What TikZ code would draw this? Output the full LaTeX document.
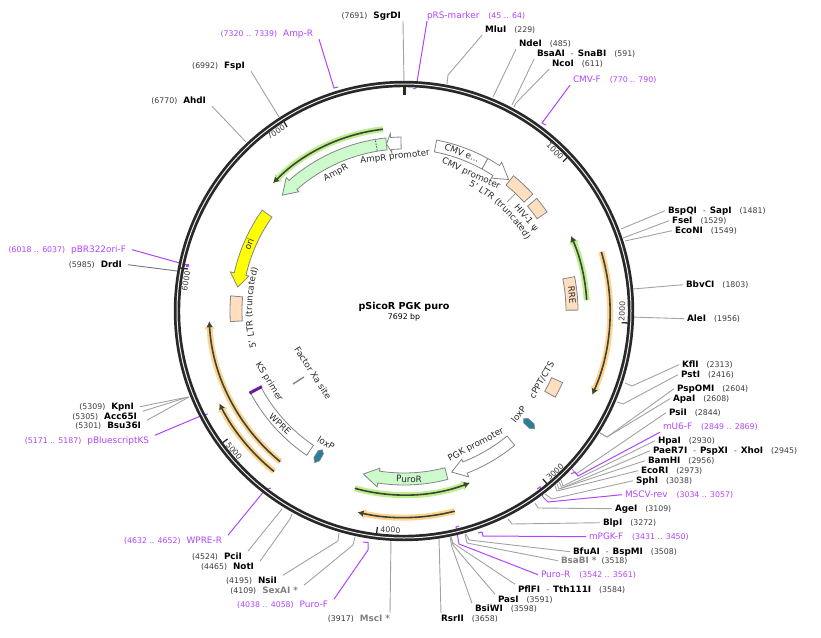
\documentclass[tikz,border=0pt]{standalone}
\usepackage{fontspec}
\setmainfont{DejaVu Sans}
\usetikzlibrary{arrows.meta,decorations.text}
\definecolor{RingDark}{HTML}{282828}
\definecolor{SiteWire}{HTML}{A2A2A2}
\definecolor{SitePos}{HTML}{3C3C3C}
\definecolor{SiteStar}{HTML}{808080}
\definecolor{FeatEdge}{HTML}{858585}
\definecolor{FeatText}{HTML}{2A2A2A}
\definecolor{PrimerPurple}{HTML}{B244FF}
\definecolor{GeneMint}{HTML}{CCFACC}
\definecolor{LtrPeach}{HTML}{FFDFBF}
\definecolor{OriYellow}{HTML}{FFFF00}
\definecolor{LoxTeal}{HTML}{2C7F9A}
\definecolor{KsViolet}{HTML}{6A1B9A}
\definecolor{GlowGreen}{HTML}{BDEE90}
\definecolor{GlowOrange}{HTML}{FFD490}
\definecolor{TrackDark}{HTML}{3D4433}
\tikzset{
  site right/.style={anchor=west,inner sep=0pt,outer xsep=3pt,outer ysep=1pt,text height=7pt,text depth=2pt,xshift=-3pt,yshift=-0.7pt},
  site left/.style={anchor=east,inner sep=0pt,outer xsep=6pt,outer ysep=1pt,text height=7pt,text depth=2pt,xshift=6pt,yshift=-0.7pt},
  site wire/.style={draw=SiteWire,line width=0.9pt},
  primer wire/.style={draw=PrimerPurple,line width=1pt},
  feature box/.style={draw=FeatEdge,line width=0.8pt,line join=miter},
  feature label/.style={inner sep=0pt,text=FeatText,font=\fontsize{8.8}{10}\selectfont},
  tick label/.style={inner sep=0pt,text=SitePos,font=\fontsize{7.8}{9}\selectfont},
  tick mark/.style={draw=RingDark,line width=1.3pt},
  green track/.style={
    preaction={draw=GlowGreen,line width=6pt,-{Latex[length=8pt,width=11pt]}},
    draw=TrackDark,line width=1.6pt,-{Latex[length=6pt,width=6.5pt]}
  },
  orange track/.style={
    preaction={draw=GlowOrange,line width=6pt,-{Latex[length=8pt,width=11pt]}},
    draw=TrackDark,line width=1.6pt,-{Latex[length=6pt,width=6.5pt]}
  }
}
\newcommand{\enz}[1]{{\fontsize{8.8}{10}\selectfont\bfseries #1}}
\newcommand{\enzstar}[1]{{\fontsize{8.8}{10}\selectfont\bfseries\color{SiteStar}#1}}
\newcommand{\bpos}[1]{{\fontsize{7.8}{9}\selectfont\color{SitePos}#1}}
\newcommand{\dsh}{\hspace{6pt}{\color{SitePos}\fontsize{7.8}{9}\selectfont-}\hspace{4pt}}
\newcommand{\prm}[1]{{\fontsize{8.9}{10}\selectfont\color{PrimerPurple}#1}}
\newcommand{\prmpos}[1]{{\fontsize{7.8}{9}\selectfont\color{PrimerPurple}#1}}
\newcommand{\arcfont}{\fontsize{8.8}{10}\selectfont\color{FeatText}}
\newcommand{\ringbox}[3]{\draw[feature box,#1] (#2:174) arc[start angle=#2,end angle=#3,radius=174] -- (#3:162) arc[start angle=#3,end angle=#2,radius=162] -- cycle;}
\newcommand{\ringarrow}[4]{\draw[feature box,#1] (#2:174) arc[start angle=#2,end angle=#3,radius=174] -- (#3:178) -- (#4:168) -- (#3:159) -- (#3:162) arc[start angle=#3,end angle=#2,radius=162] -- cycle;}
\newcommand{\loxmark}[3]{\draw[feature box,fill=LoxTeal,line width=0.5pt] (#1:161) -- (#2:164) -- (#2:172) -- (#1:176) -- (#3:172) -- (#3:164) -- cycle;}
\begin{document}
\begin{tikzpicture}[x=1pt,y=-1pt]
  \useasboundingbox (0,0) rectangle (821,637);

  \node[site left] (sgrdi) at (401,15) {\bpos{(7691)}\hspace{6pt}\enz{SgrDI}};
  \node[site left] (ampr) at (313,33) {\prmpos{(7320 .. 7339)}\hspace{6pt}\prm{Amp-R}};
  \node[site left] (fspi) at (245,65) {\bpos{(6992)}\hspace{6pt}\enz{FspI}};
  \node[site left] (ahdi) at (206,100) {\bpos{(6770)}\hspace{6pt}\enz{AhdI}};
  \node[site left] (pbr) at (126,249) {\prmpos{(6018 .. 6037)}\hspace{6pt}\prm{pBR322ori-F}};
  \node[site left] (drdi) at (122,264) {\bpos{(5985)}\hspace{6pt}\enz{DrdI}};
  \node[site left] (kpni) at (134,406) {\bpos{(5309)}\hspace{6pt}\enz{KpnI}};
  \node[site left] (acc65i) at (137,416) {\bpos{(5305)}\hspace{6pt}\enz{Acc65I}};
  \node[site left] (bsu36i) at (141,425) {\bpos{(5301)}\hspace{6pt}\enz{Bsu36I}};
  \node[site left] (pbluescript) at (149,440) {\prmpos{(5171 .. 5187)}\hspace{6pt}\prm{pBluescriptKS}};
  \node[site left] (wprer) at (222,540) {\prmpos{(4632 .. 4652)}\hspace{6pt}\prm{WPRE-R}};
  \node[site left] (pcii) at (242,556) {\bpos{(4524)}\hspace{6pt}\enz{PciI}};
  \node[site left] (noti) at (254,566) {\bpos{(4465)}\hspace{6pt}\enz{NotI}};
  \node[site left] (nsii) at (277,580) {\bpos{(4195)}\hspace{6pt}\enz{NsiI}};
  \node[site left] (sexai) at (298,590) {\bpos{(4109)}\hspace{6pt}\enzstar{SexAI *}};
  \node[site left] (purof) at (328,604) {\prmpos{(4038 .. 4058)}\hspace{6pt}\prm{Puro-F}};
  \node[site left] (msci) at (390,618) {\bpos{(3917)}\hspace{6pt}\enzstar{MscI *}};

  \node[site right] (prsmarker) at (427,15) {\prm{pRS-marker}\hspace{9pt}\prmpos{(45 .. 64)}};
  \node[site right] (mlui) at (485,29) {\enz{MluI}\hspace{8pt}\bpos{(229)}};
  \node[site right] (ndei) at (519,43) {\enz{NdeI}\hspace{8pt}\bpos{(485)}};
  \node[site right] (bsaai) at (537,53) {\enz{BsaAI}\dsh\enz{SnaBI}\hspace{8pt}\bpos{(591)}};
  \node[site right] (ncoi) at (552,63) {\enz{NcoI}\hspace{8pt}\bpos{(611)}};
  \node[site right] (cmvf) at (573,79) {\prm{CMV-F}\hspace{9pt}\prmpos{(770 .. 790)}};
  \node[site right] (bspqi) at (668,210) {\enz{BspQI}\dsh\enz{SapI}\hspace{8pt}\bpos{(1481)}};
  \node[site right] (fsei) at (672,220) {\enz{FseI}\hspace{8pt}\bpos{(1529)}};
  \node[site right] (econi) at (675,230) {\enz{EcoNI}\hspace{8pt}\bpos{(1549)}};
  \node[site right] (bbvci) at (686,284) {\enz{BbvCI}\hspace{8pt}\bpos{(1803)}};
  \node[site right] (alei) at (687,318) {\enz{AleI}\hspace{8pt}\bpos{(1956)}};
  \node[site right] (kfli) at (682,364) {\enz{KflI}\hspace{8pt}\bpos{(2313)}};
  \node[site right] (psti) at (681,374) {\enz{PstI}\hspace{8pt}\bpos{(2416)}};
  \node[site right] (pspomi) at (677,388) {\enz{PspOMI}\hspace{8pt}\bpos{(2604)}};
  \node[site right] (apai) at (673,398) {\enz{ApaI}\hspace{8pt}\bpos{(2608)}};
  \node[site right] (psii) at (669,412) {\enz{PsiI}\hspace{8pt}\bpos{(2844)}};
  \node[site right] (mu6f) at (663,426) {\prm{mU6-F}\hspace{9pt}\prmpos{(2849 .. 2869)}};
  \node[site right] (hpai) at (658,440) {\enz{HpaI}\hspace{8pt}\bpos{(2930)}};
  \node[site right] (paer7i) at (653,450) {\enz{PaeR7I}\dsh\enz{PspXI}\dsh\enz{XhoI}\hspace{8pt}\bpos{(2945)}};
  \node[site right] (bamhi) at (648,460) {\enz{BamHI}\hspace{8pt}\bpos{(2956)}};
  \node[site right] (ecori) at (641,470) {\enz{EcoRI}\hspace{8pt}\bpos{(2973)}};
  \node[site right] (sphi) at (636,480) {\enz{SphI}\hspace{8pt}\bpos{(3038)}};
  \node[site right] (mscvrev) at (625,494) {\prm{MSCV-rev}\hspace{9pt}\prmpos{(3034 .. 3057)}};
  \node[site right] (agei) at (615,508) {\enz{AgeI}\hspace{8pt}\bpos{(3109)}};
  \node[site right] (blpi) at (603,522) {\enz{BlpI}\hspace{8pt}\bpos{(3272)}};
  \node[site right] (mpgkf) at (589,536) {\prm{mPGK-F}\hspace{9pt}\prmpos{(3431 .. 3450)}};
  \node[site right] (bfuai) at (573,551) {\enz{BfuAI}\dsh\enz{BspMI}\hspace{8pt}\bpos{(3508)}};
  \node[site right] (bsabi) at (561,560) {\enzstar{BsaBI *}\hspace{5pt}\bpos{(3518)}};
  \node[site right] (puror) at (541,574) {\prm{Puro-R}\hspace{9pt}\prmpos{(3542 .. 3561)}};
  \node[site right] (pflfi) at (518,589) {\enz{PflFI}\dsh\enz{Tth111I}\hspace{8pt}\bpos{(3584)}};
  \node[site right] (pasi) at (498,599) {\enz{PasI}\hspace{8pt}\bpos{(3591)}};
  \node[site right] (bsiwi) at (475,608) {\enz{BsiWI}\hspace{8pt}\bpos{(3598)}};
  \node[site right] (rsrii) at (441,618) {\enz{RsrII}\hspace{8pt}\bpos{(3658)}};

  \coordinate (sgrdiR) at (404,84); \draw[site wire] ([xshift=-4pt]sgrdi.south east) -- (sgrdiR);
  \coordinate (amprR) at (338,87); \draw[primer wire] (ampr.south east) -- (334,88) -- (amprR);
  \coordinate (fspiR) at (279,117); \draw[site wire] (fspi.south east) -- (fspiR);
  \coordinate (ahdiR) at (246,142); \draw[site wire] (ahdi.south east) -- (ahdiR);
  \coordinate (pbrR) at (187,265); \draw[primer wire] (pbr.east) -- (pbrR);
  \coordinate (drdiR) at (177,271); \draw[site wire,draw=SitePos!70] (drdi.east) -- (drdiR);
  \coordinate (kpniR) at (188,397); \draw[site wire] (kpni.east) -- (kpniR);
  \coordinate (acc65iR) at (188,397); \draw[site wire] (acc65i.north east) -- (acc65iR);
  \coordinate (bsu36iR) at (189,397); \draw[site wire] (bsu36i.north east) -- (bsu36iR);
  \coordinate (pbluescriptR) at (208,414); \draw[primer wire] (pbluescript.north east) -- (203,415) -- (pbluescriptR);
  \coordinate (wprerR) at (271,488); \draw[primer wire] (wprer.north east) -- (265,490) -- (wprerR);
  \coordinate (pciiR) at (282,509); \draw[site wire] (pcii.north east) -- (pciiR);
  \coordinate (notiR) at (292,514); \draw[site wire] (noti.north east) -- (290,519) -- (notiR);
  \coordinate (nsiiR) at (339,533); \draw[site wire] (nsii.north east) -- (338,541) -- (nsiiR);
  \coordinate (sexaiR) at (355,537); \draw[site wire] (sexai.north east) -- (353,545) -- (sexaiR);
  \coordinate (purofR) at (363,542); \draw[primer wire] (purof.north east) -- (368,550) -- (368,542.5) -- (purofR);
  \coordinate (msciR) at (391,538); \draw[site wire] ([xshift=-6pt]msci.north east) -- (msciR);

  \coordinate (prsmarkerR) at (413,89); \draw[primer wire] ([xshift=3pt]prsmarker.south west) -- (416,88) -- (prsmarkerR);
  \coordinate (mluiR) at (447,84); \draw[site wire] (mlui.south west) -- (448,75) -- (mluiR);
  \coordinate (ndeiR) at (493,97); \draw[site wire] (ndei.south west) -- (ndeiR);
  \coordinate (bsaaiR) at (512,105); \draw[site wire] (bsaai.south west) -- (bsaaiR);
  \coordinate (ncoiR) at (514,107); \draw[site wire] (ncoi.south west) -- (516,103) -- (ncoiR);
  \coordinate (cmvfR) at (546,125); \draw[primer wire] (cmvf.south west) -- (542,123) -- (cmvfR);
  \coordinate (bspqiR) at (621,229); \draw[site wire] (bspqi.west) -- (bspqiR);
  \coordinate (fseiR) at (623,238); \draw[site wire] (fsei.west) -- (fseiR);
  \coordinate (econiR) at (625,241); \draw[site wire] (econi.west) -- (econiR);
  \coordinate (bbvciR) at (633,289); \draw[site wire] (bbvci.west) -- (bbvciR);
  \coordinate (aleiR) at (631,317); \draw[site wire] (alei.west) -- (aleiR);
  \coordinate (kfliR) at (625,383); \draw[site wire] (kfli.west) -- (632,386) -- (kfliR);
  \coordinate (pstiR) at (617,402); \draw[site wire] (psti.west) -- (623,404) -- (pstiR);
  \coordinate (pspomiR) at (600,433); \draw[site wire] (pspomi.west) -- (607,437) -- (pspomiR);
  \coordinate (apaiR) at (600,433); \draw[site wire] (apai.west) -- (607,437) -- (apaiR);
  \coordinate (psiiR) at (572,469); \draw[site wire] (psii.west) -- (576,474) -- (psiiR);
  \coordinate (mu6fR) at (571,474); \draw[primer wire] (mu6f.south west) -- (578,476) -- (575,472) -- (mu6fR);
  \coordinate (hpaiR) at (561,480); \draw[site wire] (hpai.west) -- (563,486) -- (hpaiR);
  \coordinate (paer7iR) at (559,482); \draw[site wire] (paer7i.west) -- (562,488) -- (paer7iR);
  \coordinate (bamhiR) at (557,484); \draw[site wire] (bamhi.west) -- (559,489) -- (bamhiR);
  \coordinate (ecoriR) at (555,486); \draw[site wire] (ecori.west) -- (557,491) -- (ecoriR);
  \coordinate (sphiR) at (545,494); \draw[site wire] (sphi.west) -- (552,499) -- (sphiR);
  \coordinate (mscvrevR) at (537,489); \draw[primer wire] (mscvrev.west) -- (548,502) -- (543,497) -- (540,487) -- (mscvrevR);
  \coordinate (ageiR) at (535,503); \draw[site wire] (agei.west) -- (538,508) -- (ageiR);
  \coordinate (blpiR) at (508,519); \draw[site wire] (blpi.west) -- (512,524) -- (blpiR);
  \coordinate (mpgkfR) at (478,533); \draw[primer wire] (mpgkf.west) -- (483,536) -- (482,532) -- (mpgkfR);
  \coordinate (bfuaiR) at (466,534); \draw[site wire] (bfuai.west) -- (469,540) -- (bfuaiR);
  \coordinate (bsabiR) at (465,534); \draw[site wire] (bsabi.west) -- (467,543) -- (bsabiR);
  \coordinate (purorR) at (459,526); \draw[primer wire] (puror.west) -- (459,544) -- (456,527) -- (purorR);
  \coordinate (pflfiR) at (451,537); \draw[site wire] (pflfi.north west) -- (453,543) -- (pflfiR);
  \coordinate (pasiR) at (451,537); \draw[site wire] (pasi.north west) -- (453,545) -- (pasiR);
  \coordinate (bsiwiR) at (450,537); \draw[site wire] (bsiwi.north west) -- (452,547) -- (bsiwiR);
  \coordinate (rsriiR) at (439,538); \draw[site wire] ([xshift=3pt]rsrii.north west) -- (rsriiR);
  \fill[PrimerPurple] (185.5,263.5) rectangle (188.5,267);

  \draw[RingDark,line width=6.4pt] (404,311) circle (227);
  \draw[white!92!black,line width=1pt] (404,311) circle (227);
  \draw[RingDark,line width=2.2pt] (404.5,85) -- (404.5,95);
  \draw[tick mark] (568.8,156) -- (563,161.7);
  \draw[tick mark] (629.5,323) -- (621.6,322.7);
  \draw[tick mark] (548,485) -- (542.9,479);
  \draw[tick mark] (376.4,535) -- (377.4,527);
  \draw[tick mark] (221,444) -- (227.6,439);
  \draw[tick mark] (180,268) -- (188,269);
  \draw[tick mark] (283,120) -- (287,127);

  \node[tick label,rotate=-45] (tick1000) at (555,151) {1000};
  \node[tick label,rotate=87] (tick2000) at (622,311) {2000};
  \node[tick label,rotate=43] (tick3000) at (555,472) {3000};
  \node[tick label,rotate=-2] (tick4000) at (390.5,530) {4000};
  \node[tick label,rotate=-50] (tick5000) at (234,451) {5000};
  \node[tick label,rotate=80] (tick6000) at (186,281) {6000};
  \node[tick label,rotate=33] (tick7000) at (276,132) {7000};

  \begin{scope}[shift={(404,311)},y=1pt]
    \draw[green track] (96.6:183) arc[start angle=96.6,end angle=135.7,radius=183];
    \draw[green track] (3.4:183) arc[start angle=3.4,end angle=24.2,radius=183];
    \draw[green track] (-105.5:184) arc[start angle=-105.5,end angle=-69,radius=184];
    \draw[orange track] (16.7:206) arc[start angle=16.7,end angle=-24,radius=206];
    \draw[orange track] (-75.8:206.5) arc[start angle=-75.8,end angle=-103,radius=206.5];
    \draw[orange track] (230.6:195) arc[start angle=230.6,end angle=183,radius=195];
    \draw[orange track] (231:206.5) arc[start angle=231,end angle=206.6,radius=206.5];

    \ringarrow{fill=GeneMint}{96}{131.4}{136.4}
    \draw[dotted,line width=0.9pt,black] (99.5:163) -- (99.5:174);
    \ringarrow{fill=white}{91}{94.4}{96}
    \ringarrow{fill=OriYellow}{144.6}{167.3}{171.8}
    \ringbox{fill=LtrPeach}{175}{183.5}
    \ringbox{fill=white}{79.2}{61.2}
    \ringarrow{fill=white}{61.2}{56.7}{51.5}
    \ringbox{fill=LtrPeach}{51}{42.2}
    \ringbox{fill=LtrPeach}{40.3}{34.7}
    \ringbox{fill=LtrPeach}{11.4}{0.3}
    \ringbox{fill=LtrPeach}{-24.3}{-29.7}
    \ringarrow{fill=white}{-50.5}{-68.7}{-73.5}
    \ringarrow{fill=GeneMint}{-75.4}{-98.7}{-104}
    \ringbox{fill=white}{208}{236}
    \draw[KsViolet,line width=3pt] (208:161) -- (208:175);
    \loxmark{-42}{-40.9}{-43.1}
    \loxmark{239.5}{240.6}{238.4}
    \path[decorate,decoration={text along path,text align=center,text={|\arcfont|5' LTR (truncated)}}] (81.5:141) arc[start angle=81.5,end angle=11.5,radius=141];
    \path[decorate,decoration={text along path,text align=center,text={|\arcfont|5' LTR (truncated)}}] (213.8:152) arc[start angle=213.8,end angle=143.8,radius=152];
  \end{scope}

  \coordinate (xaA) at (293,384); \coordinate (xaB) at (304,377);
  \draw[FeatEdge,line width=1.4pt] (xaA) -- (xaB);
  \coordinate (psiA) at (515,194); \coordinate (psiB) at (507,202);
  \draw[SiteWire,line width=0.8pt] (psiA) -- (psiB);

  \node[feature label,rotate=28] (amprlab) at (336,173) {AmpR};
  \node[feature label,rotate=7] (amprprom) at (395,157) {AmpR promoter};
  \node[feature label,rotate=-21] (cmvelab) at (462,153) {CMV e...};
  \node[feature label,rotate=-25] (cmvprom) at (471,174) {CMV promoter};
  \node[feature label,rotate=-50] (hivlab) at (526,218) {HIV-1 ψ};
  \node[feature label,rotate=-85] (rrelab) at (572,295) {RRE};
  \node[feature label,rotate=60] (cpptlab) at (542,380) {cPPT/CTS};
  \node[feature label,rotate=52] (loxlab) at (518.5,414) {loxP};
  \node[feature label,rotate=28] (pgklab) at (476,445) {PGK promoter};
  \node[feature label,rotate=-1] (purolab) at (409,479) {PuroR};
  \node[feature label,rotate=68] (orilab) at (249,244) {ori};
  \node[feature label,rotate=-58] (kslab) at (269,382) {KS primer};
  \node[feature label,rotate=-42] (wprelab) at (280,424) {WPRE};
  \node[feature label,rotate=-30] (loxleft) at (326,443) {loxP};
  \node[feature label,rotate=-57] (xalab) at (313,373) {Factor Xa site};

  \node[inner sep=0pt,font=\fontsize{9.6}{11}\selectfont\bfseries] (title) at (404,307) {pSicoR PGK puro};
  \node[inner sep=0pt,font=\fontsize{7.8}{9}\selectfont] (size) at (404,317) {7692 bp};
\end{tikzpicture}
\end{document}
